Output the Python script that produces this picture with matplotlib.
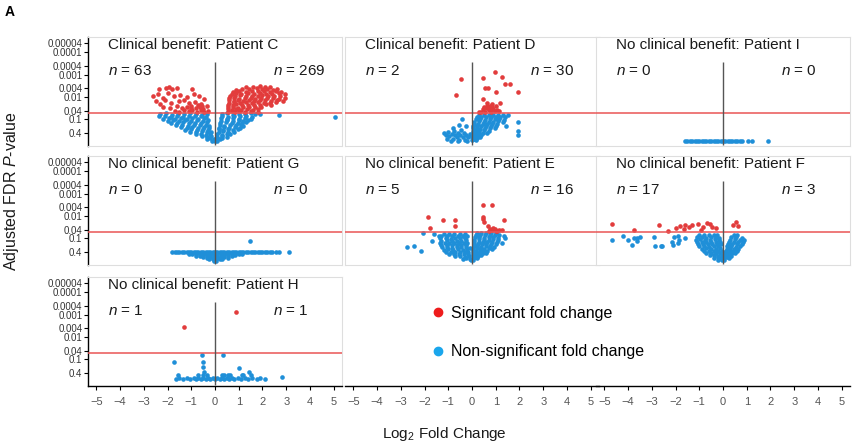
import numpy as np
import matplotlib
matplotlib.use("Agg")
import matplotlib.pyplot as plt
from matplotlib.lines import Line2D

plt.rcParams['font.family'] = ['Liberation Sans', 'DejaVu Sans']
plt.rcParams['mathtext.fontset'] = 'custom'
plt.rcParams['mathtext.rm'] = 'Liberation Sans'
plt.rcParams['mathtext.it'] = 'Liberation Sans:italic'

# points are (log2 fold change, -log10 adjusted FDR p-value)
C_sig = [
    (-2.35, 2.36), (-2.05, 2.41), (-1.92, 2.44), (-1.8, 2.37), (-1.62, 2.42), (-0.95, 2.35),
    (-2.62, 2.05), (-2.4, 2.12), (-2.2, 1.96), (-2.0, 2.16), (-1.74, 2.04), (-1.46, 2.1), (-1.2, 2.01),
    (-0.9, 2.12), (-0.68, 2.06), (-2.5, 1.82), (-2.3, 1.7), (-2.1, 1.86), (-1.85, 1.74), (-1.5, 1.81),
    (-1.3, 1.87), (-1.1, 1.73), (-0.85, 1.8), (-0.6, 1.71), (-0.45, 1.9), (-2.2, 1.56), (-1.9, 1.5),
    (-1.6, 1.62), (-1.4, 1.49), (-1.2, 1.56), (-1.0, 1.61), (-0.8, 1.5), (-0.65, 1.57), (-0.5, 1.46),
    (-0.35, 1.62), (-1.7, 1.38), (-1.5, 1.35), (-1.3, 1.41), (-1.1, 1.36), (-0.95, 1.43), (-0.75, 1.35),
    (-0.6, 1.4), (-0.45, 1.34), (-0.3, 1.38), (-1.0, 1.5), (-0.7, 1.66), (-0.55, 1.6),
    (1.3, 2.46), (1.6, 2.44), (1.9, 2.47), (2.1, 2.43), (2.3, 2.45),
    (0.9, 2.33), (1.15, 2.37), (1.45, 2.35), (1.75, 2.38), (2.0, 2.34), (2.2, 2.36), (2.45, 2.33), (2.6, 2.37),
    (0.75, 2.24), (1.0, 2.27), (1.3, 2.23), (1.55, 2.26), (1.8, 2.25), (2.05, 2.28), (2.3, 2.22), (2.55, 2.26),
    (2.8, 2.24), (0.7, 2.13), (0.9, 2.17), (1.1, 2.14), (1.4, 2.16), (1.65, 2.13), (1.9, 2.17), (2.15, 2.15),
    (2.4, 2.12), (2.7, 2.16), (2.95, 2.14), (0.65, 2.06), (0.85, 2.03), (1.05, 2.07), (1.3, 2.04), (1.55, 2.06),
    (1.8, 2.03), (2.0, 2.07), (2.25, 2.05), (2.5, 2.03), (2.75, 2.06), (0.6, 1.94), (0.8, 1.97), (1.0, 1.93),
    (1.25, 1.96), (1.5, 1.95), (1.7, 1.92), (1.95, 1.97), (2.2, 1.94), (2.45, 1.96), (2.7, 1.93), (2.95, 1.95),
    (0.6, 1.86), (0.8, 1.83), (0.95, 1.87), (1.2, 1.84), (1.45, 1.86), (1.65, 1.83), (1.9, 1.85), (2.1, 1.87),
    (2.35, 1.84), (2.6, 1.86), (2.85, 1.83), (0.6, 1.74), (0.8, 1.77), (1.05, 1.73), (1.3, 1.76), (1.55, 1.74),
    (1.8, 1.77), (2.05, 1.75), (2.3, 1.73), (2.55, 1.76), (0.55, 1.66), (0.75, 1.63), (0.9, 1.67), (1.15, 1.64),
    (1.4, 1.66), (1.65, 1.63), (1.9, 1.65), (2.15, 1.67), (2.35, 1.64), (0.55, 1.54), (0.75, 1.57), (0.95, 1.53),
    (1.2, 1.56), (1.45, 1.54), (1.7, 1.57), (1.95, 1.55), (0.55, 1.46), (0.7, 1.43), (0.9, 1.47), (1.1, 1.44),
    (1.35, 1.46), (1.6, 1.43), (1.8, 1.45), (0.55, 1.34), (0.7, 1.37), (0.85, 1.33), (1.0, 1.36), (1.25, 1.34),
    (1.5, 1.37), (1.8, 1.35),
]
C_ns = [
    (-2.3, 1.24), (-2.05, 1.27), (-1.8, 1.22), (-1.55, 1.26), (-1.3, 1.23), (-1.05, 1.27), (-0.8, 1.24),
    (-0.55, 1.21), (-0.35, 1.26), (0.3, 1.24), (0.5, 1.27), (0.75, 1.22), (1.0, 1.26), (1.25, 1.23),
    (1.5, 1.27), (1.7, 1.24), (1.9, 1.26), (2.7, 1.2), (5.05, 1.12),
    (-2.35, 1.14), (-2.1, 1.17), (-1.85, 1.13), (-1.6, 1.16), (-1.35, 1.12), (-1.1, 1.17), (-0.85, 1.14),
    (-0.6, 1.16), (-0.4, 1.13), (0.3, 1.15), (0.55, 1.13), (0.8, 1.17), (1.05, 1.14), (1.3, 1.16), (1.55, 1.13),
    (-2.2, 1.04), (-1.95, 1.07), (-1.7, 1.03), (-1.45, 1.06), (-1.2, 1.04), (-0.95, 1.07), (-0.7, 1.03),
    (-0.45, 1.05), (0.25, 1.06), (0.5, 1.03), (0.75, 1.07), (1.0, 1.04), (1.25, 1.06), (1.5, 1.03),
    (-2.0, 0.94), (-1.75, 0.97), (-1.5, 0.93), (-1.25, 0.96), (-1.0, 0.94), (-0.75, 0.97), (-0.5, 0.93),
    (-0.3, 0.96), (0.25, 0.95), (0.5, 0.97), (0.75, 0.93), (1.0, 0.96), (1.2, 0.94), (1.4, 0.97),
    (-1.85, 0.86), (-1.6, 0.83), (-1.35, 0.87), (-1.1, 0.84), (-0.85, 0.86), (-0.6, 0.83), (-0.35, 0.87),
    (0.2, 0.84), (0.45, 0.87), (0.7, 0.83), (0.95, 0.86), (1.15, 0.84), (1.3, 0.87),
    (-1.65, 0.74), (-1.4, 0.77), (-1.15, 0.73), (-0.9, 0.76), (-0.65, 0.74), (-0.4, 0.77), (-0.25, 0.73),
    (0.2, 0.76), (0.4, 0.73), (0.65, 0.77), (0.9, 0.74), (1.1, 0.76), (1.2, 0.73),
    (-1.45, 0.66), (-1.2, 0.63), (-0.95, 0.67), (-0.7, 0.64), (-0.45, 0.66), (-0.25, 0.63),
    (0.15, 0.64), (0.4, 0.67), (0.6, 0.63), (0.85, 0.66), (1.05, 0.64),
    (-1.25, 0.54), (-1.0, 0.57), (-0.75, 0.53), (-0.5, 0.56), (-0.3, 0.54),
    (0.15, 0.56), (0.35, 0.53), (0.55, 0.57), (0.75, 0.54), (0.95, 0.56),
    (-1.05, 0.46), (-0.8, 0.43), (-0.55, 0.47), (-0.35, 0.44), (-0.15, 0.46),
    (0.15, 0.44), (0.35, 0.47), (0.55, 0.43), (0.8, 0.46),
    (-0.8, 0.34), (-0.6, 0.37), (-0.4, 0.33), (-0.2, 0.36), (0.1, 0.35), (0.3, 0.33), (0.5, 0.36), (0.65, 0.34),
    (-0.55, 0.26), (-0.35, 0.23), (-0.15, 0.27), (0.1, 0.24), (0.3, 0.26), (0.5, 0.23),
    (-0.35, 0.14), (-0.2, 0.17), (-0.05, 0.13), (0.08, 0.16), (0.2, 0.14), (0.3, 0.17),
    (-0.12, 0.05), (0.0, 0.03), (0.1, 0.06),
]

D_sig = [
    (-0.46, 2.8), (-0.69, 2.07), (0.97, 3.12), (0.45, 2.83), (1.28, 2.87), (1.39, 2.58), (1.6, 2.58),
    (0.55, 2.38), (0.68, 2.38), (1.01, 2.24), (1.93, 2.22), (0.45, 1.9), (1.2, 1.75), (0.65, 1.72),
    (0.85, 1.7), (0.75, 1.58), (0.6, 1.5), (0.9, 1.48), (0.45, 1.45), (1.05, 1.42), (0.7, 1.4),
    (0.55, 1.35), (0.8, 1.33), (0.95, 1.36), (0.4, 1.32), (1.15, 1.38), (0.3, 1.34), (0.62, 1.62),
    (0.5, 1.55), (0.85, 1.55), (1.0, 1.6), (0.72, 1.46),
]
D_ns = [
    (-1.2, 0.4), (-1.1, 0.3), (-1.0, 0.45), (-0.95, 0.25), (-0.85, 0.35), (-0.8, 0.15), (-0.75, 0.5),
    (-0.7, 0.3), (-0.65, 0.2), (-0.6, 0.4), (-0.55, 0.1), (-0.5, 0.3), (-0.45, 0.55), (-0.4, 0.2),
    (-0.35, 0.4), (-0.3, 0.1), (-0.25, 0.3), (-0.2, 0.05), (-0.15, 0.2), (-0.1, 0.35), (-1.05, 0.15),
    (-0.9, 0.05), (-0.6, 0.05), (-0.8, 0.62), (-0.43, 1.0), (-0.25, 0.7), (-0.55, 0.75),
    (0.3, 1.2), (0.5, 1.22), (0.7, 1.19), (0.9, 1.21), (1.1, 1.2), (1.3, 1.22), (1.5, 1.19),
    (0.2, 1.1), (0.4, 1.12), (0.6, 1.09), (0.8, 1.11), (1.0, 1.1), (1.2, 1.12), (1.4, 1.09),
    (0.15, 1.0), (0.35, 1.02), (0.55, 0.99), (0.75, 1.01), (0.95, 1.0), (1.15, 1.02), (1.35, 0.99),
    (0.1, 0.9), (0.3, 0.92), (0.5, 0.89), (0.7, 0.91), (0.9, 0.9), (1.1, 0.92), (1.3, 0.89), (1.93, 0.9),
    (0.1, 0.8), (0.25, 0.82), (0.45, 0.79), (0.65, 0.81), (0.85, 0.8), (1.05, 0.82),
    (0.05, 0.7), (0.2, 0.72), (0.4, 0.69), (0.6, 0.71), (0.8, 0.7), (1.0, 0.72), (1.45, 0.7),
    (0.05, 0.6), (0.2, 0.62), (0.35, 0.59), (0.55, 0.61), (0.75, 0.6), (0.95, 0.62),
    (0.05, 0.5), (0.15, 0.52), (0.3, 0.49), (0.5, 0.51), (0.7, 0.5), (1.93, 0.5),
    (0.05, 0.4), (0.15, 0.42), (0.3, 0.39), (0.45, 0.41), (0.65, 0.4),
    (0.02, 0.3), (0.12, 0.32), (0.25, 0.29), (0.4, 0.31), (1.93, 0.31),
    (0.02, 0.2), (0.1, 0.22), (0.2, 0.19), (0.35, 0.21),
    (0.02, 0.1), (0.08, 0.12), (0.15, 0.09),
]

I_sig = []
I_ns = [
    (-1.6, 0.06), (-1.5, 0.06), (-1.4, 0.06), (-1.3, 0.06), (-1.2, 0.06), (-1.1, 0.06), (-1.0, 0.06),
    (-0.9, 0.06), (-0.8, 0.06), (-0.7, 0.06), (-0.6, 0.06), (-0.5, 0.06), (-0.4, 0.06), (-0.3, 0.06),
    (-0.2, 0.06), (-0.1, 0.06), (0.0, 0.06), (0.1, 0.06), (0.2, 0.06), (0.3, 0.06), (0.4, 0.06),
    (0.5, 0.06), (0.6, 0.06), (0.7, 0.06), (0.8, 0.06), (1.07, 0.06), (1.21, 0.06), (1.91, 0.06),
]

G_sig = []
G_ns = [
    (-1.8, 0.4), (-1.7, 0.42), (-1.6, 0.39), (-1.5, 0.41), (-1.4, 0.4), (-1.3, 0.42), (-1.2, 0.39),
    (-1.1, 0.41), (-1.0, 0.4), (-0.9, 0.42), (-0.8, 0.39), (-0.7, 0.41), (-0.6, 0.4), (-0.5, 0.42),
    (-0.4, 0.39), (-0.3, 0.41), (-0.2, 0.4), (-0.1, 0.42), (0.0, 0.39), (0.1, 0.41), (0.2, 0.4),
    (0.3, 0.42), (0.4, 0.39), (0.5, 0.41), (0.6, 0.4), (0.7, 0.42), (0.8, 0.39), (0.9, 0.41),
    (1.0, 0.4), (1.1, 0.42), (1.2, 0.39), (1.3, 0.41), (1.4, 0.4), (1.5, 0.42), (1.6, 0.39),
    (1.7, 0.41), (1.8, 0.4), (1.9, 0.42), (2.0, 0.39), (2.1, 0.41), (2.2, 0.4), (2.3, 0.41),
    (2.4, 0.4), (2.55, 0.4), (2.7, 0.4), (3.1, 0.4), (1.46, 0.87),
    (-1.1, 0.32), (-0.95, 0.31), (-0.8, 0.33), (-0.65, 0.32), (-0.5, 0.31), (-0.35, 0.33), (-0.2, 0.32),
    (-0.05, 0.31), (0.1, 0.33), (0.25, 0.32), (0.4, 0.31), (0.55, 0.33), (0.7, 0.32), (0.85, 0.31),
    (1.0, 0.33), (1.15, 0.32),
    (-0.8, 0.24), (-0.65, 0.23), (-0.5, 0.25), (-0.35, 0.24), (-0.2, 0.23), (-0.05, 0.25), (0.1, 0.24),
    (0.25, 0.23), (0.4, 0.25), (0.55, 0.24), (0.7, 0.23), (0.85, 0.25),
    (-0.5, 0.16), (-0.35, 0.15), (-0.2, 0.17), (-0.05, 0.16), (0.1, 0.15), (0.25, 0.17), (0.4, 0.16),
    (0.55, 0.15), (-0.25, 0.08), (-0.1, 0.09), (0.05, 0.07), (0.2, 0.08), (0.3, 0.09),
    (-0.05, 0.02), (0.05, 0.02),
]

E_sig = [
    (-1.87, 1.97), (-1.21, 1.82), (-0.7, 1.84), (-0.7, 1.57), (-1.77, 1.45),
    (0.45, 2.5), (0.84, 2.5), (0.45, 1.96), (0.47, 1.85), (0.49, 1.72), (0.66, 1.57), (1.36, 1.82),
    (0.75, 1.4), (0.85, 1.36), (0.95, 1.42), (1.05, 1.35), (1.15, 1.38), (0.9, 1.45), (0.7, 1.33),
    (1.0, 1.32), (1.25, 1.36),
]
E_ns = [
    (-2.74, 0.61), (-2.46, 0.66), (-2.15, 0.43), (-2.08, 1.23), (-1.7, 0.9), (-1.59, 1.2), (-1.38, 1.1),
    (1.36, 1.1), (1.25, 0.78), (1.4, 1.0),
    (-1.2, 1.2), (-0.95, 1.22), (-0.75, 1.19), (-0.5, 1.21), (-0.3, 1.2),
    (-1.3, 1.1), (-1.05, 1.12), (-0.85, 1.09), (-0.6, 1.11), (-0.4, 1.1), (-0.2, 1.12),
    (-1.35, 1.0), (-1.1, 1.02), (-0.9, 0.99), (-0.7, 1.01), (-0.5, 1.0), (-0.3, 1.02),
    (-1.3, 0.9), (-1.05, 0.92), (-0.85, 0.89), (-0.65, 0.91), (-0.45, 0.9), (-0.25, 0.92),
    (-1.35, 0.8), (-1.15, 0.82), (-0.95, 0.79), (-0.75, 0.81), (-0.55, 0.8), (-0.35, 0.82), (-0.2, 0.79),
    (-1.3, 0.7), (-1.05, 0.72), (-0.85, 0.69), (-0.65, 0.71), (-0.45, 0.7), (-0.25, 0.72),
    (-1.25, 0.6), (-1.05, 0.62), (-0.85, 0.59), (-0.65, 0.61), (-0.45, 0.6), (-0.25, 0.62), (-0.1, 0.59),
    (-1.2, 0.5), (-1.0, 0.52), (-0.8, 0.49), (-0.6, 0.51), (-0.4, 0.5), (-0.2, 0.52),
    (-1.1, 0.4), (-0.9, 0.42), (-0.7, 0.39), (-0.5, 0.41), (-0.3, 0.4), (-0.15, 0.42),
    (-0.95, 0.3), (-0.75, 0.32), (-0.55, 0.29), (-0.35, 0.31), (-0.15, 0.3),
    (-0.7, 0.2), (-0.5, 0.22), (-0.3, 0.19), (-0.12, 0.21),
    (-0.4, 0.1), (-0.25, 0.12), (-0.1, 0.09), (-0.05, 0.03), (0.03, 0.03),
    (0.2, 1.25), (0.4, 1.26), (0.6, 1.24), (0.8, 1.25), (1.0, 1.26),
    (0.15, 1.15), (0.35, 1.16), (0.55, 1.14), (0.75, 1.15), (0.95, 1.16), (1.15, 1.14),
    (0.12, 1.05), (0.3, 1.06), (0.5, 1.04), (0.7, 1.05), (0.9, 1.06), (1.1, 1.04),
    (0.1, 0.95), (0.3, 0.96), (0.5, 0.94), (0.7, 0.95), (0.9, 0.96), (1.1, 0.94),
    (0.1, 0.85), (0.28, 0.86), (0.45, 0.84), (0.65, 0.85), (0.85, 0.86), (1.05, 0.84),
    (0.08, 0.75), (0.25, 0.76), (0.42, 0.74), (0.6, 0.75), (0.8, 0.76), (1.0, 0.74),
    (0.08, 0.65), (0.22, 0.66), (0.4, 0.64), (0.58, 0.65), (0.75, 0.66), (0.92, 0.64),
    (0.06, 0.55), (0.2, 0.56), (0.35, 0.54), (0.52, 0.55), (0.7, 0.56), (0.85, 0.54),
    (0.05, 0.45), (0.18, 0.46), (0.32, 0.44), (0.48, 0.45), (0.65, 0.46),
    (0.05, 0.35), (0.15, 0.36), (0.3, 0.34), (0.45, 0.35), (0.6, 0.36),
    (0.04, 0.25), (0.14, 0.26), (0.26, 0.24), (0.4, 0.25),
    (0.03, 0.15), (0.12, 0.16), (0.22, 0.14),
]

F_sig = [
    (-4.67, 1.66), (-3.77, 1.38), (-2.7, 1.6), (-2.3, 1.33), (-2.0, 1.47), (-1.8, 1.55), (-1.65, 1.4),
    (-1.45, 1.52), (-1.3, 1.6), (-1.05, 1.65), (-0.94, 1.38), (-0.85, 1.5), (-0.66, 1.7), (-0.55, 1.66),
    (-0.45, 1.52), (-0.3, 1.48), (-1.6, 1.58),
    (0.42, 1.62), (0.55, 1.72), (0.63, 1.55),
]
F_ns = [
    (-4.67, 0.93), (-4.23, 1.13), (-4.0, 0.95), (-3.84, 0.73), (-3.77, 1.02), (-3.62, 1.0), (-3.5, 1.05),
    (-3.63, 0.88), (-2.89, 1.05), (-2.86, 0.65), (-2.63, 0.68), (-2.55, 0.66), (-2.15, 0.85), (-2.05, 1.05),
    (-2.12, 0.72), (-1.9, 1.12), (-1.85, 0.95), (-1.88, 0.78), (-1.6, 1.0),
    (-1.0, 1.15), (-0.8, 1.16), (-0.6, 1.14), (-0.4, 1.15), (-0.25, 1.16),
    (-1.1, 1.05), (-0.9, 1.06), (-0.7, 1.04), (-0.5, 1.05), (-0.3, 1.06), (-0.15, 1.04),
    (-1.15, 0.95), (-0.95, 0.96), (-0.75, 0.94), (-0.55, 0.95), (-0.35, 0.96), (-0.15, 0.94),
    (-1.1, 0.85), (-0.9, 0.86), (-0.7, 0.84), (-0.5, 0.85), (-0.3, 0.86), (-0.12, 0.84),
    (-1.05, 0.75), (-0.85, 0.76), (-0.65, 0.74), (-0.45, 0.75), (-0.25, 0.76), (-0.1, 0.74),
    (-1.0, 0.65), (-0.8, 0.66), (-0.6, 0.64), (-0.4, 0.65), (-0.2, 0.66),
    (-0.9, 0.55), (-0.7, 0.56), (-0.5, 0.54), (-0.3, 0.55), (-0.12, 0.56),
    (-0.8, 0.45), (-0.6, 0.46), (-0.4, 0.44), (-0.2, 0.45), (-0.05, 0.46),
    (-0.7, 0.35), (-0.5, 0.36), (-0.3, 0.34), (-0.12, 0.35),
    (-0.55, 0.25), (-0.38, 0.26), (-0.2, 0.24), (-0.05, 0.25),
    (-0.4, 0.15), (-0.22, 0.16), (-0.08, 0.14), (-0.2, 0.06), (-0.05, 0.05), (0.05, 0.06),
    (0.45, 1.15), (0.6, 1.16), (0.35, 1.05), (0.55, 1.06), (0.8, 1.04),
    (0.3, 0.95), (0.5, 0.96), (0.7, 0.94), (0.9, 0.95),
    (0.25, 0.85), (0.45, 0.86), (0.65, 0.84), (0.85, 0.85),
    (0.2, 0.75), (0.4, 0.76), (0.6, 0.74), (0.8, 0.75),
    (0.18, 0.65), (0.35, 0.66), (0.55, 0.64), (0.72, 0.65),
    (0.15, 0.55), (0.3, 0.56), (0.48, 0.54), (0.65, 0.55),
    (0.12, 0.45), (0.28, 0.46), (0.42, 0.44), (0.58, 0.45),
    (0.1, 0.35), (0.24, 0.36), (0.38, 0.34), (0.5, 0.35),
    (0.08, 0.25), (0.2, 0.26), (0.32, 0.24), (0.06, 0.15), (0.15, 0.16), (0.25, 0.14),
]

H_sig = [(-1.29, 2.45), (0.88, 3.13)]
H_ns = [
    (-1.74, 0.87), (-0.56, 1.21), (0.32, 1.21), (-0.52, 0.87), (-0.5, 0.66), (1.0, 0.64), (2.84, 0.24),
    (1.44, 0.43), (1.15, 0.33),
    (-1.65, 0.12), (-1.5, 0.17), (-1.35, 0.11), (-1.2, 0.16), (-1.05, 0.12), (-0.9, 0.17), (-0.8, 0.11),
    (-0.7, 0.16), (-0.6, 0.12), (-0.5, 0.17), (-0.4, 0.11), (-0.3, 0.16), (-0.2, 0.12), (-0.1, 0.17),
    (0.0, 0.11), (0.1, 0.16), (0.2, 0.12), (0.3, 0.17), (0.4, 0.11), (0.5, 0.16), (0.6, 0.12),
    (0.7, 0.17), (0.8, 0.11), (0.95, 0.16), (1.1, 0.12), (1.25, 0.17), (1.4, 0.11), (1.55, 0.16),
    (1.75, 0.12), (1.9, 0.17), (2.1, 0.12),
    (-1.55, 0.3), (-0.7, 0.31), (-0.5, 0.29), (-0.35, 0.32), (-0.45, 0.45), (0.3, 0.3), (0.4, 0.32),
    (0.55, 0.29), (0.65, 0.31), (1.2, 0.3), (1.5, 0.31),
]

titles = [
    "Clinical benefit: Patient C", "Clinical benefit: Patient D", "No clinical benefit: Patient I",
    "No clinical benefit: Patient G", "No clinical benefit: Patient E", "No clinical benefit: Patient F",
    "No clinical benefit: Patient H",
]
n_down = [63, 2, 0, 0, 5, 17, 1]
n_up = [269, 30, 0, 0, 16, 3, 1]
sig_sets = [C_sig, D_sig, I_sig, G_sig, E_sig, F_sig, H_sig]
ns_sets = [C_ns, D_ns, I_ns, G_ns, E_ns, F_ns, H_ns]

p_ticks = [0.00004, 0.0001, 0.0004, 0.001, 0.004, 0.01, 0.04, 0.1, 0.4]
p_tick_labels = ["0.00004", "0.0001", "0.0004", "0.001", "0.004", "0.01", "0.04", "0.1", "0.4"]
fc_ticks = [-5, -4, -3, -2, -1, 0, 1, 2, 3, 4, 5]
fdr_cut = 0.05

RED = '#e23c3c'
BLUE = '#1f8fd8'
BOX = '#dedede'

W, H = 858, 447
fig = plt.figure(figsize=(W / 100, H / 100), dpi=100)
col_left = [88, 345, 596]
row_bottom = [146, 265, 386]
pw, ph = 254, 109


def add_ax(r, c):
    return fig.add_axes([col_left[c] / W, 1 - row_bottom[r] / H, pw / W, ph / H])


def style_axis(ax, r, c, show_x):
    ax.set_xlim(-5.35, 5.35)
    ax.set_ylim(-0.18, 4.67)
    for s in ax.spines.values():
        s.set_color(BOX)
        s.set_linewidth(0.8)
    if c == 0:
        ax.spines['left'].set_color('black')
        ax.spines['left'].set_linewidth(1.0)
        ax.set_yticks(-np.log10(p_ticks))
        ax.set_yticklabels(p_tick_labels)
        ax.tick_params(axis='y', direction='out', length=3, width=0.8,
                       labelsize=7, labelcolor='#333333', pad=1)
    else:
        ax.set_yticks([])
    if show_x:
        ax.spines['bottom'].set_color('black')
        ax.spines['bottom'].set_linewidth(1.0)
        ax.set_xticks(fc_ticks)
        ax.tick_params(axis='x', direction='out', length=3, width=0.8,
                       labelsize=8, labelcolor='#555555', pad=5)
    else:
        ax.set_xticks([])


for i in range(7):
    r, c = divmod(i, 3)
    ax = add_ax(r, c)
    style_axis(ax, r, c, show_x=(r == 2))
    if ns_sets[i]:
        x, v = zip(*ns_sets[i])
        ax.scatter(x, v, s=11, color=BLUE, linewidths=0, zorder=2)
    if sig_sets[i]:
        x, v = zip(*sig_sets[i])
        ax.scatter(x, v, s=11, color=RED, linewidths=0, zorder=2)
    ax.axhline(-np.log10(fdr_cut), color='#e95555', lw=1.1, zorder=3)
    ax.vlines(0, -0.15, 3.55, color='#555555', lw=1.0, zorder=3)
    ax.text(-4.5, 4.3, titles[i], fontsize=11, va='center', ha='left', color='#1a1a1a')
    ax.text(-4.5, 3.15, r'$n$ = %d' % n_down[i], fontsize=11, va='center', ha='left', color='#1a1a1a')
    ax.text(2.45, 3.15, r'$n$ = %d' % n_up[i], fontsize=11, va='center', ha='left', color='#1a1a1a')

# empty facets in the bottom row only carry the x axis (and the legend)
bottom_axes = []
for c in (1, 2):
    ax = add_ax(2, c)
    style_axis(ax, 2, c, show_x=True)
    ax.patch.set_visible(False)
    for side in ('top', 'right', 'left'):
        ax.spines[side].set_visible(False)
    bottom_axes.append(ax)

handles = [
    Line2D([], [], ls='none', marker='o', ms=6, color='#ee1c1c', label='Significant fold change'),
    Line2D([], [], ls='none', marker='o', ms=6, color='#1aa6ec', label='Non-significant fold change'),
]
leg = bottom_axes[0].legend(handles=handles, loc='center left', bbox_to_anchor=(0.341, 0.49),
                            frameon=False, fontsize=11.5, handlelength=0.8, handletextpad=0.4,
                            labelspacing=1.45, borderpad=0, borderaxespad=0)
leg.set_zorder(10)
bottom_axes[0].set_zorder(bottom_axes[1].get_zorder() + 1)

fig.text(12 / W, 1 - 191 / H, r'Adjusted FDR $P$-value', rotation=90, va='center', ha='center',
         fontsize=11.5, color='#1a1a1a')
fig.text(444 / W, 1 - 434 / H, r'Log$_2$ Fold Change', va='center', ha='center',
         fontsize=11, color='#1a1a1a')
fig.text(5 / W, 1 - 12 / H, 'A', fontweight='bold', fontsize=10, va='center', ha='left')

fig.savefig('out.png', dpi=100)
